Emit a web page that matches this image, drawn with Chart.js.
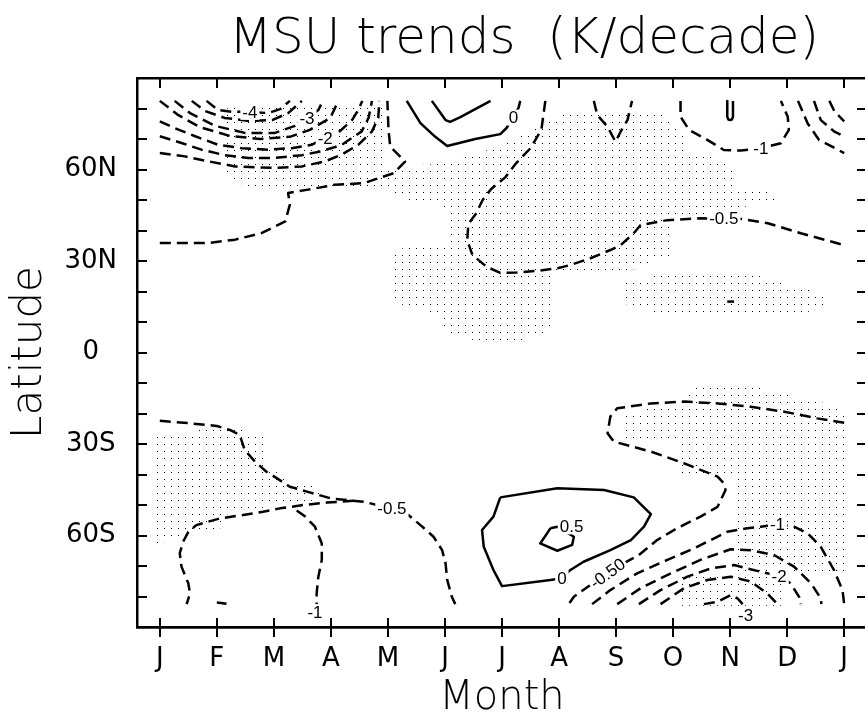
<!DOCTYPE html>
<html>
<head>
<meta charset="utf-8">
<script src="https://cdn.jsdelivr.net/npm/chart.js@4/dist/chart.umd.min.js"></script>
<style>
  html, body { margin: 0; padding: 0; background: #fff; overflow: hidden; }
  canvas { display: block; }
</style>
</head>
<body>
<canvas id="msu" width="870" height="716" style="width:870px;height:716px"></canvas>
<script>
// ---- axis text ----
const chartTitle = 'MSU trends  (K/decade)';
const monthLabels = ['J', 'F', 'M', 'A', 'M', 'J', 'J', 'A', 'S', 'O', 'N', 'D', 'J'];
const latTickMarks = [-90, -80, -70, -60, -50, -40, -30, -20, -10, 0, 10, 20, 30, 40, 50, 60, 70, 80, 90];
const latTickValues = [60, 30, 0, -30, -60];
const latTickText = ['60N', '30N', '0', '30S', '60S'];

// ---- contour lines: [month (0 = Jan ... 12 = Jan), latitude] ----
// northern winter trough
const nhM4  = [[0.82,82.5],[1.02,79.5],[1.26,78.9],[1.58,78.9],[1.90,78.5],[2.11,79.8],[2.28,82.5]];
const nhM35 = [[0.56,82.5],[0.79,79.2],[1.14,76.9],[1.58,75.9],[1.97,76.2],[2.25,78.5],[2.49,82.5]];
const nhM3  = [[0.26,82.5],[0.53,78.5],[0.97,74.3],[1.49,72.0],[2.02,72.0],[2.37,74.3],[2.58,76.9],[2.78,79.5],[2.86,82.5]];
const nhM25 = [[0,82.5],[0.32,77.9],[0.70,73.9],[1.23,71.0],[1.76,70.0],[2.28,70.7],[2.63,73.0],[2.99,76.9],[3.13,82.5]];
const nhM2  = [[0,75.8],[0.26,73.6],[0.62,70.9],[1.02,68.1],[1.44,67.0],[1.90,66.5],[2.31,67.0],[2.66,68.1],[2.90,70.3],[3.16,72.6],[3.37,76.2],[3.48,79.5],[3.55,82.5]];
const nhM15 = [[0,70.9],[0.38,68.7],[0.73,66.5],[1.14,64.7],[1.55,63.8],[2.02,63.8],[2.49,64.7],[2.84,66.0],[3.19,68.1],[3.54,72.5],[3.66,76.9],[3.72,82.5]];
const nhM1  = [[0,65.4],[0.44,64.3],[0.85,62.7],[1.32,61.0],[2.02,60.5],[2.49,61.0],[2.90,62.7],[3.19,64.9],[3.48,68.1],[3.72,72.5],[3.83,76.9],[3.85,82.5]];
const nhM05 = [[0,35.9],[0.44,35.9],[0.85,35.9],[1.32,37.0],[1.79,39.2],[2.20,43.0],[2.28,48.5],[2.25,52.3],[2.60,53.4],[3.07,55.0],[3.57,55.5],[4.10,58.8],[4.30,62.6],[4.04,67.5],[4.01,73.0],[3.99,82.5]];
// same trough re-entering in December
const decM1  = [[11.19,82.5],[11.36,75.1],[11.56,69.7],[12,65.4]];
const decM15 = [[11.47,82.5],[11.59,76.2],[11.83,72.4],[12,70.9]];
const decM2  = [[11.74,82.5],[11.83,79.0],[12,75.8]];
// northern summer
const nhJun0   = [[4.33,82.5],[4.57,75.2],[4.83,70.7],[5.04,67.7],[5.53,70.0],[5.97,71.6],[6.08,73.6],[6.20,77.2],[6.29,80.2],[6.32,82.5]];
const nhJun05  = [[4.77,82.5],[5.01,76.2],[5.09,75.6],[5.27,77.2],[5.80,82.5]];
const nhJulM05 = [[6.76,82.5],[6.69,73.0],[6.50,67.0],[6.25,62.1],[6.06,57.5],[5.81,53.6],[5.66,50.0],[5.55,45.7],[5.41,42.1],[5.39,36.9],[5.48,32.0],[5.73,28.1],[5.97,26.1],[6.26,26.2],[6.62,26.8],[6.97,27.6],[7.20,28.7],[7.55,30.9],[7.90,33.6],[8.08,35.2],[8.31,39.1],[8.43,41.8],[8.90,43.4],[9.48,44.0],[9.89,43.9],[10.19,43.8],[10.66,42.4],[11.24,39.1],[12,35.2]];
const nhSepM1  = [[7.61,82.5],[7.67,77.9],[7.85,74.0],[7.99,69.1],[8.08,72.4],[8.20,76.2],[8.28,82.5]];
const nhOctM1  = [[9.13,82.5],[9.13,77.3],[9.28,73.0],[9.60,69.7],[9.89,66.4],[10.19,66.2],[10.54,67.0],[10.89,68.6],[11.03,73.0],[11.01,77.3],[10.89,82.5]];
const nhNovCap = [[9.95,82.5],[9.95,77.2],[9.97,76.4],[10.0,76.2],[10.03,76.4],[10.05,77.2],[10.05,82.5]];
const nhNovBit = [[9.95,16.7],[10.07,16.7]];
// southern hemisphere, first half of the year
const shJanM05a = [[0,-22.4],[0.53,-23.2],[1.00,-24.1],[1.23,-25.4],[1.40,-27.0],[1.49,-32.0],[1.67,-35.8],[1.87,-39.1],[2.05,-41.2],[2.28,-44.0],[2.58,-45.6],[2.99,-47.8],[3.28,-48.4],[3.57,-48.9],[3.81,-50.0],[4.07,-51.3],[4.36,-53.3],[4.57,-56.6],[4.80,-60.4],[4.95,-64.8],[5.01,-69.1],[5.04,-74.6],[5.12,-80.1],[5.18,-82.5]];
const shJanM05b = [[3.40,-48.6],[2.93,-49.2],[2.52,-50.0],[2.11,-51.1],[1.81,-52.2],[1.46,-53.3],[1.05,-54.4],[0.64,-56.6],[0.50,-58.8],[0.41,-62.0],[0.35,-65.8],[0.38,-70.2],[0.50,-75.7],[0.53,-79.0],[0.47,-82.5]];
const shMarM1   = [[2.40,-51.8],[2.55,-53.8],[2.72,-57.1],[2.84,-62.6],[2.84,-68.0],[2.78,-73.5],[2.75,-79.0],[2.75,-82.5]];
const shFebBit  = [[1.00,-82.0],[1.17,-82.4]];
// southern hemisphere, second half of the year
const shAug0    = [[5.97,-47.5],[6.97,-44.5],[7.79,-45.1],[8.31,-47.5],[8.61,-53.0],[8.49,-57.1],[8.26,-61.5],[7.90,-64.8],[7.43,-68.6],[7.20,-71.3],[7.05,-74.0],[6.85,-74.6],[6.00,-76.6],[5.85,-71.3],[5.68,-63.7],[5.65,-58.2],[5.85,-53.8],[5.97,-47.5]];
const shAug05   = [[6.85,-57.6],[6.97,-57.1],[7.26,-60.4],[7.23,-63.1],[6.97,-65.0],[6.67,-62.6],[6.79,-59.3],[6.85,-57.6]];
const shOctM05  = [[12,-23.0],[11.53,-21.6],[10.95,-19.4],[10.36,-17.8],[9.78,-16.7],[9.19,-16.1],[8.61,-16.7],[8.02,-18.3],[7.90,-21.0],[7.85,-26.5],[7.96,-29.2],[8.61,-32.5],[9.19,-36.3],[9.78,-40.7],[9.89,-42.9],[9.92,-45.1],[9.78,-50.6],[9.48,-53.8],[9.07,-57.6],[8.72,-61.5],[8.40,-66.4],[8.08,-69.7],[7.85,-72.4],[7.55,-76.2],[7.26,-80.1],[7.17,-82.5]];
const shNovM1   = [[7.58,-82.5],[7.90,-77.9],[8.37,-72.4],[8.90,-68.0],[9.37,-64.2],[9.95,-58.8],[10.30,-57.6],[10.54,-57.1],[10.83,-56.3],[11.12,-57.1],[11.36,-59.3],[11.59,-63.7],[11.82,-71.3],[11.97,-77.9],[12,-82.5]];
const shNovM15  = [[8.02,-82.5],[8.43,-77.3],[8.96,-72.4],[9.48,-68.0],[10.01,-64.5],[10.36,-64.8],[10.77,-66.4],[11.12,-70.2],[11.42,-75.7],[11.59,-80.6],[11.60,-82.5]];
const shNovM2   = [[8.40,-82.5],[8.78,-77.9],[9.25,-73.5],[9.66,-70.8],[10.07,-69.7],[10.30,-70.8],[10.65,-72.4],[10.86,-73.3],[11.06,-75.7],[11.21,-80.1],[11.24,-82.5]];
const shNovM25  = [[8.78,-82.5],[9.19,-77.3],[9.60,-74.6],[10.01,-73.5],[10.36,-75.1],[10.65,-79.0],[10.83,-82.5]];
const shNovM3   = [[9.54,-82.5],[9.78,-81.7],[10.01,-79.5],[10.13,-80.6],[10.22,-82.5]];

// ---- stippled (significant) areas, closed outlines ----
const sigNorth = [[1.19,81.5],[3.95,81.5],[3.95,61.6],[4.09,60.7],[4.92,62.0],[5.32,64.3],[5.85,66.9],[6.32,71.6],[6.76,75.6],[7.11,78.9],[8.82,78.9],[9.19,72.0],[9.19,66.4],[9.69,64.1],[10.0,62.0],[10.12,58.9],[10.12,54.6],[10.77,52.3],[10.77,50.0],[10.24,47.7],[9.59,45.4],[8.97,44.4],[8.97,31.0],[8.39,28.7],[8.29,27.0],[6.85,25.7],[6.85,7.4],[6.53,4.8],[6.06,2.1],[5.80,2.1],[5.44,4.4],[4.94,7.1],[4.94,12.0],[4.44,14.6],[4.04,16.9],[4.04,33.0],[4.53,35.6],[5.06,36.2],[5.06,47.0],[4.81,48.4],[4.30,50.3],[4.04,52.6],[3.90,52.6],[1.90,52.6],[1.37,55.2],[1.12,58.2],[1.12,67.0]];
const sigTropic = [[8.64,26.1],[10.33,26.1],[10.82,23.4],[11.35,20.8],[11.73,18.5],[11.73,16.2],[11.46,13.9],[11.12,11.6],[8.90,11.6],[8.52,13.9],[8.11,16.2],[8.11,23.4],[8.64,23.4]];
const sigSouthWest = [[0.61,-23.8],[1.46,-23.8],[1.49,-26.1],[1.90,-26.4],[1.90,-37.9],[2.11,-39.8],[2.28,-41.8],[2.67,-43.8],[2.81,-46.4],[2.77,-48.4],[2.20,-49.7],[1.58,-51.6],[1.12,-53.3],[1.09,-57.5],[0.70,-58.9],[0.35,-61.5],[-0.05,-62.5],[-0.05,-26.1],[0.61,-26.1]];
const sigSouthEast = [[9.40,-10.0],[10.59,-10.0],[10.59,-12.3],[11.12,-12.3],[11.12,-14.9],[11.87,-17.2],[12.0,-19.5],[12.0,-72.6],[10.89,-72.6],[10.89,-83.0],[9.13,-83.0],[9.13,-72.6],[10.07,-72.6],[10.07,-40.8],[9.08,-40.8],[9.08,-29.0],[8.13,-29.0],[8.13,-18.9],[8.48,-18.9],[9.13,-14.9],[9.40,-12.3]];

// contour level of each line, plus where its value is written
const contours = [
  { level: -4,   pts: nhM4,  label: [1.58, 78.9] },
  { level: -3.5, pts: nhM35 },
  { level: -3,   pts: nhM3,  label: [2.58, 76.9] },
  { level: -2.5, pts: nhM25 },
  { level: -2,   pts: nhM2,  label: [2.90, 70.3] },
  { level: -1.5, pts: nhM15 },
  { level: -1,   pts: nhM1 },
  { level: -0.5, pts: nhM05 },
  { level: -1,   pts: decM1 },
  { level: -1.5, pts: decM15 },
  { level: -2,   pts: decM2 },
  { level: 0,    pts: nhJun0,  label: [6.20, 77.0] },
  { level: 0.5,  pts: nhJun05 },
  { level: -0.5, pts: nhJulM05, label: [9.89, 43.9] },
  { level: -1,   pts: nhSepM1 },
  { level: -1,   pts: nhOctM1, label: [10.54, 67.0] },
  { level: 0,    pts: nhNovCap },
  { level: -1,   pts: nhNovBit },
  { level: -0.5, pts: shJanM05a, label: [4.07, -51.2] },
  { level: -0.5, pts: shJanM05b },
  { level: -1,   pts: shMarM1, label: [2.72, -85.2] },
  { level: -1,   pts: shFebBit },
  { level: 0,    pts: shAug0,  label: [7.05, -74.0] },
  { level: 0.5,  pts: shAug05, label: [7.22, -57.0] },
  { level: -0.5, pts: shOctM05, label: [7.85, -72.4], digits: 2, angle: -36 },
  { level: -1,   pts: shNovM1, label: [10.83, -56.3] },
  { level: -1.5, pts: shNovM15 },
  { level: -2,   pts: shNovM2, label: [10.86, -73.3] },
  { level: -2.5, pts: shNovM25 },
  { level: -3,   pts: shNovM3, label: [10.27, -86.1] }
];
const stippled = [sigNorth, sigTropic, sigSouthWest, sigSouthEast];

// ---- drawing ----
const FONT = '"DejaVu Sans", "Liberation Sans", Arial, sans-serif';
Chart.defaults.color = '#000';
Chart.defaults.font.family = FONT;

function dotPattern() {
  const tile = document.createElement('canvas');
  tile.width = 7; tile.height = 7;
  const t = tile.getContext('2d');
  t.fillStyle = '#000';
  t.fillRect(3, 3, 1, 1);
  return document.getElementById('msu').getContext('2d').createPattern(tile, 'repeat');
}
const dots = dotPattern();
const toXY = pts => pts.map(p => ({ x: p[0], y: p[1] }));

const datasets = [];
contours.forEach(c => datasets.push({
  data: toXY(c.pts),
  showLine: true,
  borderColor: '#000',
  borderWidth: 2.5,
  borderDash: c.level < 0 ? [11, 6] : [],
  borderCapStyle: 'butt',
  borderJoinStyle: 'round',
  pointRadius: 0,
  tension: 0,
  fill: false,
  order: 1
}));
stippled.forEach(s => datasets.push({
  data: toXY(s),
  showLine: true,
  borderWidth: 0,
  borderColor: 'rgba(0,0,0,0)',
  backgroundColor: dots,
  pointRadius: 0,
  tension: 0,
  fill: 'shape',
  order: 2
}));

function levelText(c) {
  return c.digits ? c.level.toFixed(c.digits) : String(c.level);
}

const contourLabels = {
  id: 'contourLabels',
  afterDatasetsDraw(chart) {
    const { ctx, scales } = chart;
    ctx.save();
    ctx.font = '17px "Liberation Sans", Arial, sans-serif';
    ctx.textAlign = 'center';
    ctx.textBaseline = 'middle';
    contours.forEach(c => {
      if (!c.label) return;
      const px = scales.x.getPixelForValue(c.label[0]);
      const py = scales.y.getPixelForValue(c.label[1]);
      const text = levelText(c);
      const w = ctx.measureText(text).width;
      ctx.save();
      ctx.translate(px, py);
      ctx.rotate((c.angle || 0) * Math.PI / 180);
      ctx.fillStyle = '#fff';
      ctx.fillRect(-w / 2 - 2, -8, w + 4, 16);
      ctx.fillStyle = '#000';
      ctx.fillText(text, 0, 1);
      ctx.restore();
    });
    ctx.restore();
  }
};

const topTitle = {
  id: 'topTitle',
  afterDraw(chart) {
    const { ctx, chartArea } = chart;
    ctx.save();
    ctx.font = '300 50px ' + FONT;
    ctx.fillStyle = '#000';
    ctx.textAlign = 'center';
    ctx.textBaseline = 'middle';
    ctx.fillText(chartTitle, (chartArea.left + chartArea.right) / 2 + 22, 40);
    ctx.restore();
  }
};

const monthTicks = s => { s.ticks = monthLabels.map((_, i) => ({ value: i })); };
const latTicks = s => { s.ticks = latTickMarks.map(v => ({ value: v })); };
const frame = { display: true, color: '#000', width: 2.5 };
const tickGrid = len => ({ drawOnChartArea: false, drawTicks: true, tickLength: len, lineWidth: 2, color: '#000' });

new Chart(document.getElementById('msu'), {
  type: 'scatter',
  data: { datasets },
  options: {
    responsive: false,
    devicePixelRatio: 1,
    animation: false,
    events: [],
    layout: { padding: { top: 78, right: 3, bottom: 0, left: 0 } },
    plugins: { legend: { display: false }, tooltip: { enabled: false } },
    scales: {
      x: {
        type: 'linear', position: 'bottom', weight: 1, min: -0.4, max: 12.4,
        afterBuildTicks: monthTicks,
        ticks: {
          autoSkip: false, maxRotation: 0, padding: 7,
          font: { family: FONT, size: 26 },
          callback: v => monthLabels[v] ?? ''
        },
        grid: tickGrid(10),
        border: frame,
        title: { display: true, text: 'Month', font: { family: FONT, size: 40, weight: '300', lineHeight: 1 }, padding: { top: 0, bottom: -3 } },
        afterFit: s => { s.height = 89; }
      },
      xInner: {
        type: 'linear', position: 'bottom', weight: 0, min: -0.4, max: 12.4,
        afterBuildTicks: monthTicks,
        ticks: { display: false },
        grid: tickGrid(-9),
        border: frame,
        afterFit: s => { s.height = 0; }
      },
      xTop: {
        type: 'linear', position: 'top', min: -0.4, max: 12.4,
        afterBuildTicks: monthTicks,
        ticks: { display: false },
        grid: tickGrid(-10),
        border: frame,
        afterFit: s => { s.height = 0; }
      },
      y: {
        type: 'linear', position: 'left', min: -90, max: 90,
        afterBuildTicks: latTicks,
        ticks: {
          autoSkip: false, crossAlign: 'center', padding: 30,
          font: { family: FONT, size: 26 },
          callback: v => { const i = latTickValues.indexOf(v); return i < 0 ? '' : latTickText[i]; }
        },
        grid: tickGrid(-10),
        border: frame,
        title: { display: true, text: 'Latitude', font: { family: FONT, size: 42, weight: '300', lineHeight: 1.2 }, padding: { top: 5, bottom: 0 } },
        afterFit: s => { s.width = 137; }
      },
      yRight: {
        type: 'linear', position: 'right', min: -90, max: 90,
        afterBuildTicks: latTicks,
        ticks: { display: false },
        grid: tickGrid(-10),
        border: frame,
        afterFit: s => { s.width = 0; }
      }
    }
  },
  plugins: [contourLabels, topTitle]
});
</script>
</body>
</html>
